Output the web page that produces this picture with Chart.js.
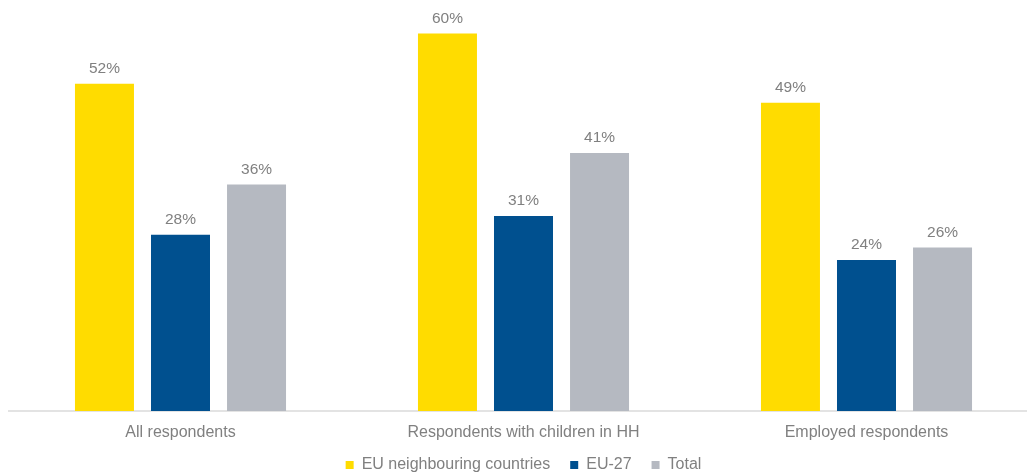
<!DOCTYPE html>
<html>
<head>
<meta charset="utf-8">
<script src="https://cdn.jsdelivr.net/npm/chart.js@4"></script>
<style>
    html, body { margin: 0; padding: 0; background: #fff; overflow: hidden; }
    #wrap { width: 1040px; height: 485px; position: relative; }
</style>
</head>
<body>
<div id="wrap"><canvas id="barChart"></canvas></div>
<script>
const categories = ['All respondents', 'Respondents with children in HH', 'Employed respondents'];
const seriesNames = ['EU neighbouring countries', 'EU-27', 'Total'];
const neighbourValues = [52, 60, 49];
const eu27Values = [28, 31, 24];
const totalValues = [36, 41, 26];
const colors = ['#FFDC00', '#00508F', '#B5B9C1'];

const textColor = '#808080';
const fontFamily = "'Liberation Sans', Arial, Helvetica, sans-serif";

// value labels above each bar
const valueLabels = {
    id: 'valueLabels',
    afterDatasetsDraw(chart) {
        const ctx = chart.ctx;
        ctx.save();
        ctx.font = '15.5px ' + fontFamily;
        ctx.fillStyle = textColor;
        ctx.textAlign = 'center';
        ctx.textBaseline = 'middle';
        chart.data.datasets.forEach((ds, i) => {
            chart.getDatasetMeta(i).data.forEach((bar, j) => {
                ctx.fillText(ds.data[j] + '%', bar.x, bar.y - 15);
            });
        });
        ctx.restore();
    }
};

document.addEventListener('DOMContentLoaded', () => {
    const ctx = document.getElementById('barChart').getContext('2d');
    const values = [neighbourValues, eu27Values, totalValues];

    new Chart(ctx, {
        type: 'bar',
        data: {
            labels: categories,
            datasets: seriesNames.map((name, i) => ({
                label: name,
                data: values[i],
                backgroundColor: colors[i],
                borderWidth: 0,
                categoryPercentage: 0.665,
                barPercentage: 0.776
            }))
        },
        options: {
            responsive: true,
            maintainAspectRatio: false,
            animation: false,
            layout: { padding: { left: 9, right: 2, top: 2, bottom: 2 } },
            plugins: {
                tooltip: { enabled: false },
                legend: {
                    position: 'bottom',
                    labels: {
                        boxWidth: 8,
                        boxHeight: 8,
                        padding: 20,
                        color: textColor,
                        font: { size: 16, family: fontFamily }
                    }
                }
            },
            scales: {
                x: {
                    grid: { display: false },
                    border: { display: true, color: '#e3e3e3', width: 2 },
                    ticks: {
                        color: textColor,
                        padding: -31,
                        mirror: true, // also turns off clipping of the labels to the short axis box
                        font: { size: 16, family: fontFamily }
                    },
                    afterFit: (scale) => { scale.height = 26; }
                },
                y: { display: false, min: 0, max: 65 }
            }
        },
        plugins: [valueLabels]
    });
});
</script>
</body>
</html>
